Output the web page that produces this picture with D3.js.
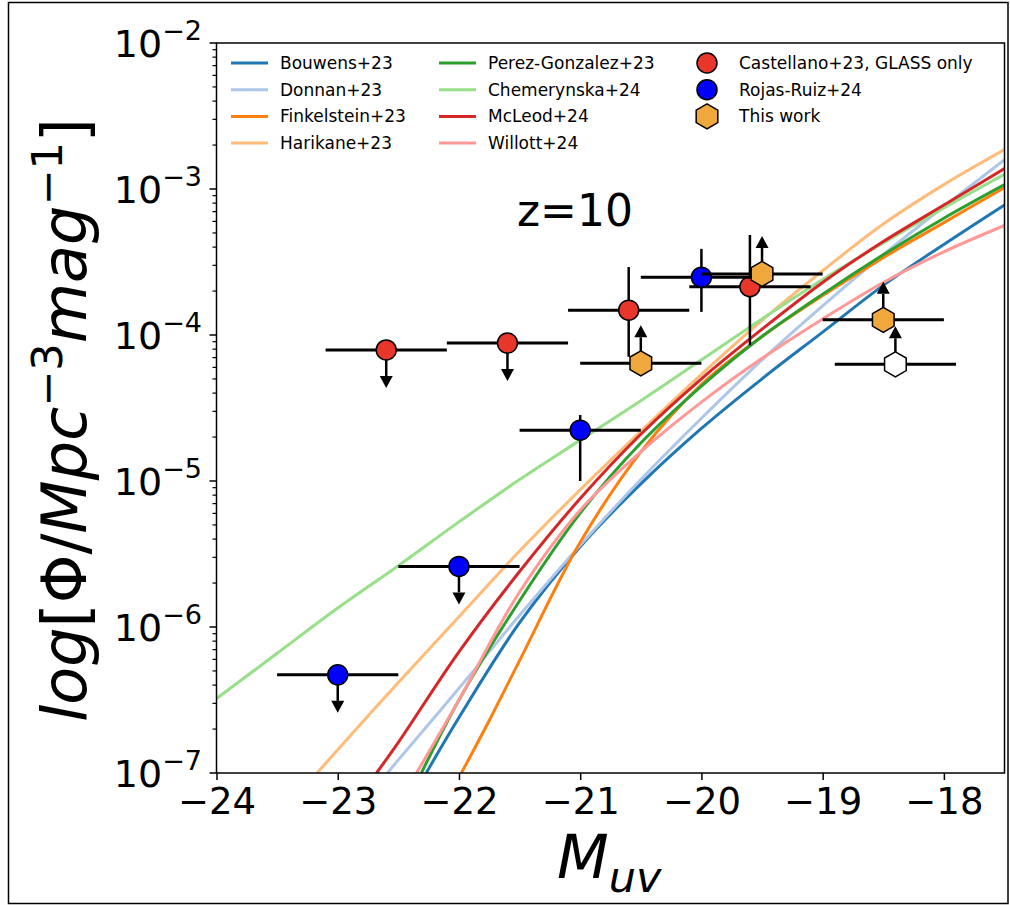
<!DOCTYPE html>
<html>
<head>
<meta charset="utf-8">
<script src="https://cdn.jsdelivr.net/npm/d3@7"></script>
<style>
  body { margin: 0; background: #fff; }
  svg { display: block; }
  text { font-family: "DejaVu Sans", sans-serif; fill: #000; }
</style>
</head>
<body>
<div id="chart"></div>
<script>
// ---- luminosity function curves (log10 phi) ----
const bouwensMag = [-22.27, -22, -21.5, -21, -20.5, -20, -19.5, -19, -18.5, -18, -17.5];
const bouwensLogPhi = [-7.00, -6.62, -5.97, -5.45, -5.02, -4.64, -4.30, -3.98, -3.66, -3.38, -3.11];

const donnanMag = [-22.59, -22.5, -22, -21.5, -21, -20.5, -20, -19.5, -19, -18.5, -18, -17.5];
const donnanLogPhi = [-7.00, -6.91, -6.42, -5.92, -5.44, -4.99, -4.57, -4.17, -3.80, -3.45, -3.12, -2.80];

const finkelsteinMag = [-21.98, -21.75, -21.5, -21, -20.5, -20, -19.5, -19, -18.5, -18, -17.5];
const finkelsteinLogPhi = [-7.00, -6.64, -6.23, -5.42, -4.80, -4.34, -4.01, -3.73, -3.47, -3.23, -2.99];

const harikaneMag = [-23.17, -23, -22.5, -22, -21.5, -21, -20.5, -20, -19.5, -19, -18.5, -18, -17.5];
const harikaneLogPhi = [-7.00, -6.84, -6.38, -5.93, -5.48, -5.06, -4.66, -4.27, -3.90, -3.56, -3.24, -2.97, -2.73];

const perezMag = [-22.31, -22, -21.5, -21, -20.5, -20, -19.5, -19, -18.5, -18, -17.5];
const perezLogPhi = [-7.00, -6.50, -5.82, -5.22, -4.74, -4.35, -4.01, -3.72, -3.45, -3.20, -2.97];

const chemerynskaMag = [-24, -23.5, -23, -22.5, -22, -21.5, -21, -20.5, -20, -19.5, -19, -18.5, -18, -17.5];
const chemerynskaLogPhi = [-6.49, -6.18, -5.87, -5.58, -5.28, -4.99, -4.72, -4.45, -4.17, -3.89, -3.62, -3.37, -3.13, -2.90];

const mcleodMag = [-22.68, -22.5, -22, -21.5, -21, -20.5, -20, -19.5, -19, -18.5, -18, -17.5];
const mcleodLogPhi = [-7.00, -6.79, -6.17, -5.62, -5.12, -4.68, -4.30, -3.96, -3.64, -3.36, -3.11, -2.86];

const willottMag = [-22.35, -22, -21.5, -21, -20.5, -20, -19.5, -19, -18.5, -18, -17.5];
const willottLogPhi = [-7.00, -6.50, -5.76, -5.20, -4.80, -4.46, -4.16, -3.89, -3.64, -3.43, -3.25];

const curveNames = ["Bouwens+23", "Donnan+23", "Finkelstein+23", "Harikane+23",
                    "Perez-Gonzalez+23", "Chemerynska+24", "McLeod+24", "Willott+24"];
const curveColors = ["#1f77b4", "#aec7e8", "#ff7f0e", "#ffbb78",
                     "#2ca02c", "#98df8a", "#d62728", "#ff9896"];

// ---- data points ----
const castellanoMag = [-22.6, -21.6, -20.6, -19.6];
const castellanoPhi = [7.9e-5, 8.8e-5, 1.48e-4, 2.14e-4];
const castellanoPhiLo = [null, null, 7.1e-5, 8.5e-5];
const castellanoPhiHi = [null, null, 2.92e-4, 4.84e-4];
const castellanoUpper = [true, true, false, false];

const rojasMag = [-23, -22, -21, -20];
const rojasPhi = [4.7e-7, 2.6e-6, 2.23e-5, 2.49e-4];
const rojasPhiLo = [null, null, 1.0e-5, 1.44e-4];
const rojasPhiHi = [null, null, 2.83e-5, 3.89e-4];
const rojasUpper = [true, true, false, false];

const thisWorkMag = [-20.5, -19.5, -18.5];
const thisWorkPhi = [6.4e-5, 2.62e-4, 1.27e-4];
const openMag = [-18.4];
const openPhi = [6.3e-5];

const magErr = 0.5;
const xTicks = [-24, -23, -22, -21, -20, -19, -18];
const yTicks = [-7, -6, -5, -4, -3, -2];

// ---- layout ----
const W = 1010, H = 905;
const svg = d3.select("#chart").append("svg").attr("width", W).attr("height", H);

const x = d3.scaleLinear().domain([-24, -17.5]).range([216.5, 1004.5]);
const y = d3.scaleLog().domain([1e-7, 1e-2]).range([773, 43]);

// outer frame
svg.append("rect").attr("x", 8.5).attr("y", 2.5).attr("width", 999.5).attr("height", 901)
  .attr("fill", "none").attr("stroke", "#000").attr("stroke-width", 1.5);

svg.append("defs").append("clipPath").attr("id", "plotclip")
  .append("rect").attr("x", x(-24)).attr("y", y(1e-2))
  .attr("width", x(-17.5) - x(-24)).attr("height", y(1e-7) - y(1e-2));

// curves
const curveData = [
  [bouwensMag, bouwensLogPhi], [donnanMag, donnanLogPhi], [finkelsteinMag, finkelsteinLogPhi],
  [harikaneMag, harikaneLogPhi], [perezMag, perezLogPhi], [chemerynskaMag, chemerynskaLogPhi],
  [mcleodMag, mcleodLogPhi], [willottMag, willottLogPhi]
];
const line = d3.line().x(d => x(d[0])).y(d => y(Math.pow(10, d[1])))
  .curve(d3.curveCatmullRom.alpha(0.5));
const curveG = svg.append("g").attr("clip-path", "url(#plotclip)");
curveData.forEach(([mags, lp], i) => {
  curveG.append("path")
    .datum(mags.map((m, j) => [m, lp[j]]))
    .attr("d", line)
    .attr("fill", "none")
    .attr("stroke", curveColors[i])
    .attr("stroke-width", 3);
});

// axes
const axG = svg.append("g");
axG.append("rect").attr("x", x(-24)).attr("y", y(1e-2))
  .attr("width", x(-17.5) - x(-24)).attr("height", y(1e-7) - y(1e-2))
  .attr("fill", "none").attr("stroke", "#000").attr("stroke-width", 1.5);

const xAxis = axG.append("g").attr("transform", `translate(0,${y(1e-7)})`)
  .call(d3.axisBottom(x).tickValues(xTicks).tickSize(7).tickFormat(d => "\u2212" + Math.abs(d)));
xAxis.select(".domain").remove();
xAxis.selectAll(".tick line").attr("stroke-width", 1.5);
xAxis.selectAll(".tick text").attr("font-size", 37).attr("dy", "0.85em")
  .attr("font-family", "DejaVu Sans");

// y axis major & minor ticks
const minor = [];
for (let e = -7; e < -2; e++) for (let k = 2; k <= 9; k++) minor.push(k * Math.pow(10, e));
axG.append("g").selectAll("line").data(minor).join("line")
  .attr("x1", x(-24) - 4).attr("x2", x(-24))
  .attr("y1", d => y(d)).attr("y2", d => y(d))
  .attr("stroke", "#000").attr("stroke-width", 1.2);
axG.append("g").selectAll("line").data(yTicks).join("line")
  .attr("x1", x(-24) - 7).attr("x2", x(-24))
  .attr("y1", d => y(Math.pow(10, d))).attr("y2", d => y(Math.pow(10, d)))
  .attr("stroke", "#000").attr("stroke-width", 1.5);
const yLab = axG.append("g").selectAll("text").data(yTicks).join("text")
  .attr("x", 202).attr("y", d => y(Math.pow(10, d)) + 14)
  .attr("text-anchor", "end").attr("font-size", 38);
yLab.append("tspan").text("10");
yLab.append("tspan").attr("dy", -17).attr("font-size", 27).text(d => "\u2212" + Math.abs(d));

// axis titles
svg.append("text").attr("x", 557).attr("y", 878).attr("font-size", 60)
  .attr("font-style", "italic").text("M")
  .append("tspan").attr("font-size", 43).attr("dy", 14).text("uv");

const yt = svg.append("text").attr("transform", "translate(86,420) rotate(-90)")
  .attr("text-anchor", "middle").attr("font-size", 62);
yt.append("tspan").attr("font-style", "italic").text("log");
yt.append("tspan").text("[\u03A6/");
yt.append("tspan").attr("font-style", "italic").text("Mpc");
yt.append("tspan").attr("font-size", 43).attr("dy", -24).text("\u22123");
yt.append("tspan").attr("font-style", "italic").attr("dy", 24).text("mag");
yt.append("tspan").attr("font-size", 43).attr("dy", -24).text("\u22121");
yt.append("tspan").attr("dy", 24).text("]");

svg.append("text").attr("x", 517).attr("y", 226).attr("font-size", 44).text("z=10");

// ---- error bars and markers ----
const ptsG = svg.append("g");
const arrowLen = 38, headLen = 12, headW = 6.5;

function arrow(cx, cy, dir) {
  // dir = +1 down (upper limit), -1 up (lower limit)
  const tip = cy + dir * arrowLen;
  ptsG.append("line").attr("x1", cx).attr("x2", cx).attr("y1", cy).attr("y2", tip - dir * headLen)
    .attr("stroke", "#000").attr("stroke-width", 2.5);
  ptsG.append("path")
    .attr("d", `M${cx - headW},${tip - dir * headLen}L${cx + headW},${tip - dir * headLen}L${cx},${tip}Z`)
    .attr("fill", "#000");
}

function errorbars(mags, phis, lo, hi) {
  mags.forEach((m, i) => {
    const cy = y(phis[i]);
    ptsG.append("line").attr("x1", x(m - magErr)).attr("x2", x(m + magErr))
      .attr("y1", cy).attr("y2", cy).attr("stroke", "#000").attr("stroke-width", 3);
    if (lo && lo[i] != null) {
      ptsG.append("line").attr("x1", x(m)).attr("x2", x(m))
        .attr("y1", y(lo[i])).attr("y2", y(hi[i])).attr("stroke", "#000").attr("stroke-width", 2.5);
    }
  });
}

function hexPath(cx, cy, r) {
  const pts = d3.range(6).map(k => {
    const a = (-90 + 60 * k) * Math.PI / 180;
    return [cx + r * Math.cos(a), cy + r * Math.sin(a)];
  });
  return "M" + pts.join("L") + "Z";
}

// Castellano
errorbars(castellanoMag, castellanoPhi, castellanoPhiLo, castellanoPhiHi);
castellanoMag.forEach((m, i) => { if (castellanoUpper[i]) arrow(x(m), y(castellanoPhi[i]), 1); });
ptsG.append("g").selectAll("circle").data(castellanoMag).join("circle")
  .attr("cx", d => x(d)).attr("cy", (d, i) => y(castellanoPhi[i])).attr("r", 10)
  .attr("fill", "#e8362a").attr("stroke", "#000").attr("stroke-width", 1.5);

// Rojas-Ruiz
errorbars(rojasMag, rojasPhi, rojasPhiLo, rojasPhiHi);
rojasMag.forEach((m, i) => { if (rojasUpper[i]) arrow(x(m), y(rojasPhi[i]), 1); });
ptsG.append("g").selectAll("circle").data(rojasMag).join("circle")
  .attr("cx", d => x(d)).attr("cy", (d, i) => y(rojasPhi[i])).attr("r", 10)
  .attr("fill", "#0000ff").attr("stroke", "#000").attr("stroke-width", 1.5);

// This work (lower limits)
errorbars(thisWorkMag, thisWorkPhi);
thisWorkMag.forEach((m, i) => arrow(x(m), y(thisWorkPhi[i]), -1));
ptsG.append("g").selectAll("path").data(thisWorkMag).join("path")
  .attr("d", (d, i) => hexPath(x(d), y(thisWorkPhi[i]), 12.5))
  .attr("fill", "#f0a83c").attr("stroke", "#000").attr("stroke-width", 1.5);

errorbars(openMag, openPhi);
openMag.forEach((m, i) => arrow(x(m), y(openPhi[i]), -1));
ptsG.append("g").selectAll("path").data(openMag).join("path")
  .attr("d", (d, i) => hexPath(x(d), y(openPhi[i]), 12.5))
  .attr("fill", "#fff").attr("stroke", "#000").attr("stroke-width", 1.5);

// ---- legend ----
const leg = svg.append("g");
curveNames.forEach((name, i) => {
  const col = Math.floor(i / 4), row = i % 4;
  const lx = 231 + col * 208, ly = 63 + row * 26.7;
  leg.append("line").attr("x1", lx).attr("x2", lx + 37).attr("y1", ly).attr("y2", ly)
    .attr("stroke", curveColors[i]).attr("stroke-width", 3);
  leg.append("text").attr("x", lx + 49).attr("y", ly + 6).attr("font-size", 17).text(name);
});
const markerNames = ["Castellano+23, GLASS only", "Rojas-Ruiz+24", "This work"];
markerNames.forEach((name, i) => {
  const ly = 63 + i * 26.7;
  if (i < 2) {
    leg.append("circle").attr("cx", 707).attr("cy", ly).attr("r", 10)
      .attr("fill", i === 0 ? "#e8362a" : "#0000ff").attr("stroke", "#000").attr("stroke-width", 1.5);
  } else {
    leg.append("path").attr("d", hexPath(707, ly, 12.5))
      .attr("fill", "#f0a83c").attr("stroke", "#000").attr("stroke-width", 1.5);
  }
  leg.append("text").attr("x", 739).attr("y", ly + 6).attr("font-size", 17).text(name);
});
</script>
</body>
</html>
